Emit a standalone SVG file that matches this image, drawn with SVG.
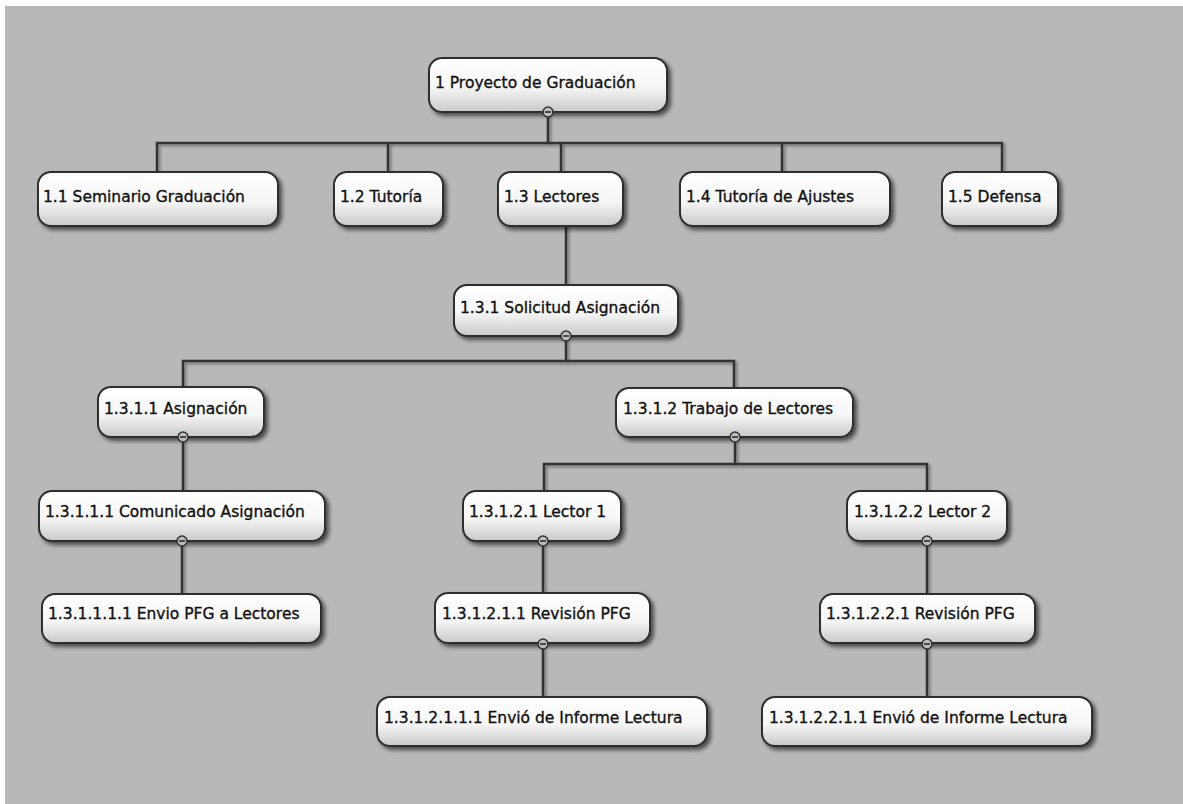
<svg xmlns="http://www.w3.org/2000/svg" width="1183" height="804" viewBox="0 0 1183 804">
<style>
.box{fill:url(#g);stroke:#2e2e2e;stroke-width:2;filter:url(#sh)}
.t{font-family:"DejaVu Sans",Verdana,sans-serif;font-size:15.5px;fill:#111;stroke:#111;stroke-width:0.35}
.c{fill:none;stroke:#333;stroke-width:2.5;filter:url(#sh2)}
.k{fill:#bdbdbd;stroke:#333;stroke-width:1.5}
.m{stroke:#222;stroke-width:1.5}
</style>
<defs>
<linearGradient id="g" x1="0" y1="0" x2="0" y2="1">
<stop offset="0" stop-color="#ffffff"/>
<stop offset="0.55" stop-color="#f6f6f6"/>
<stop offset="1" stop-color="#c9c9c9"/>
</linearGradient>
<filter id="sh" x="-10%" y="-20%" width="120%" height="150%">
<feGaussianBlur in="SourceAlpha" stdDeviation="2"/>
<feOffset dx="3" dy="3" result="b"/>
<feComponentTransfer><feFuncA type="linear" slope="0.6"/></feComponentTransfer>
<feMerge><feMergeNode/><feMergeNode in="SourceGraphic"/></feMerge>
</filter>
<filter id="sh2" filterUnits="userSpaceOnUse" x="0" y="0" width="1183" height="804">
<feGaussianBlur in="SourceAlpha" stdDeviation="1.5"/>
<feOffset dx="2" dy="2"/>
<feComponentTransfer><feFuncA type="linear" slope="0.4"/></feComponentTransfer>
<feMerge><feMergeNode/><feMergeNode in="SourceGraphic"/></feMerge>
</filter>
</defs>
<rect x="0" y="0" width="1183" height="804" fill="#ffffff"/>
<rect x="5" y="6" width="1178" height="798" fill="#b8b8b8"/>

<g id="connectors">
<path class="c" d="M548 112V143M157 173V143H1002V173M388 143V173M561 143V173M782 143V173"/>
<path class="c" d="M566 225V285"/>
<path class="c" d="M566 336V361M183 387V361H734V388"/>
<path class="c" d="M183 437V491M182 541V594"/>
<path class="c" d="M735 437V464M544 491V464H927V491"/>
<path class="c" d="M543 541V593M543 644V697"/>
<path class="c" d="M927 541V594M927 644V697"/>
</g>

<g id="n1"><rect class="box" x="429" y="58" width="238" height="54" rx="13"/><text class="t" x="435" y="88">1 Proyecto de Graduación</text><circle class="k" cx="548" cy="112" r="5"/><line class="m" x1="545" y1="112" x2="551" y2="112"/></g>
<g id="n1_1"><rect class="box" x="38" y="172" width="240" height="54" rx="13"/><text class="t" x="43" y="202">1.1 Seminario Graduación</text></g>
<g id="n1_2"><rect class="box" x="334" y="172" width="109" height="54" rx="13"/><text class="t" x="340" y="202">1.2 Tutoría</text></g>
<g id="n1_3"><rect class="box" x="498" y="172" width="125" height="54" rx="13"/><text class="t" x="504" y="202">1.3 Lectores</text></g>
<g id="n1_4"><rect class="box" x="680" y="172" width="210" height="54" rx="13"/><text class="t" x="686" y="202">1.4 Tutoría de Ajustes</text></g>
<g id="n1_5"><rect class="box" x="942" y="172" width="116" height="54" rx="13"/><text class="t" x="948" y="202">1.5 Defensa</text></g>

<g id="n1_3_1"><rect class="box" x="454" y="285" width="224" height="51" rx="13"/><text class="t" x="460" y="313">1.3.1 Solicitud Asignación</text><circle class="k" cx="566" cy="336" r="5"/><line class="m" x1="563" y1="336" x2="569" y2="336"/></g>

<g id="n1_3_1_1"><rect class="box" x="98" y="387" width="166" height="50" rx="13"/><text class="t" x="104" y="414">1.3.1.1 Asignación</text><circle class="k" cx="183" cy="437" r="5"/><line class="m" x1="180" y1="437" x2="186" y2="437"/></g>
<g id="n1_3_1_2"><rect class="box" x="616" y="388" width="237" height="49" rx="13"/><text class="t" x="623" y="414">1.3.1.2 Trabajo de Lectores</text><circle class="k" cx="735" cy="437" r="5"/><line class="m" x1="732" y1="437" x2="738" y2="437"/></g>

<g id="n1_3_1_1_1"><rect class="box" x="39" y="491" width="286" height="50" rx="13"/><text class="t" x="45" y="517">1.3.1.1.1 Comunicado Asignación</text><circle class="k" cx="182" cy="541" r="5"/><line class="m" x1="179" y1="541" x2="185" y2="541"/></g>
<g id="n1_3_1_1_1_1"><rect class="box" x="42" y="594" width="279" height="49" rx="13"/><text class="t" x="48" y="619">1.3.1.1.1.1 Envio PFG a Lectores</text></g>

<g id="n1_3_1_2_1"><rect class="box" x="463" y="491" width="158" height="50" rx="13"/><text class="t" x="469" y="517">1.3.1.2.1 Lector 1</text><circle class="k" cx="543" cy="541" r="5"/><line class="m" x1="540" y1="541" x2="546" y2="541"/></g>
<g id="n1_3_1_2_2"><rect class="box" x="847" y="491" width="160" height="50" rx="13"/><text class="t" x="854" y="517">1.3.1.2.2 Lector 2</text><circle class="k" cx="927" cy="541" r="5"/><line class="m" x1="924" y1="541" x2="930" y2="541"/></g>

<g id="n1_3_1_2_1_1"><rect class="box" x="435" y="593" width="215" height="50" rx="13"/><text class="t" x="442" y="619">1.3.1.2.1.1 Revisión PFG</text><circle class="k" cx="543" cy="644" r="5"/><line class="m" x1="540" y1="644" x2="546" y2="644"/></g>
<g id="n1_3_1_2_2_1"><rect class="box" x="820" y="594" width="215" height="49" rx="13"/><text class="t" x="826" y="619">1.3.1.2.2.1 Revisión PFG</text><circle class="k" cx="927" cy="644" r="5"/><line class="m" x1="924" y1="644" x2="930" y2="644"/></g>

<g id="n1_3_1_2_1_1_1"><rect class="box" x="377" y="697" width="330" height="49" rx="13"/><text class="t" x="384" y="723">1.3.1.2.1.1.1 Envió de Informe Lectura</text></g>
<g id="n1_3_1_2_2_1_1"><rect class="box" x="762" y="697" width="330" height="49" rx="13"/><text class="t" x="769" y="723">1.3.1.2.2.1.1 Envió de Informe Lectura</text></g>
</svg>
